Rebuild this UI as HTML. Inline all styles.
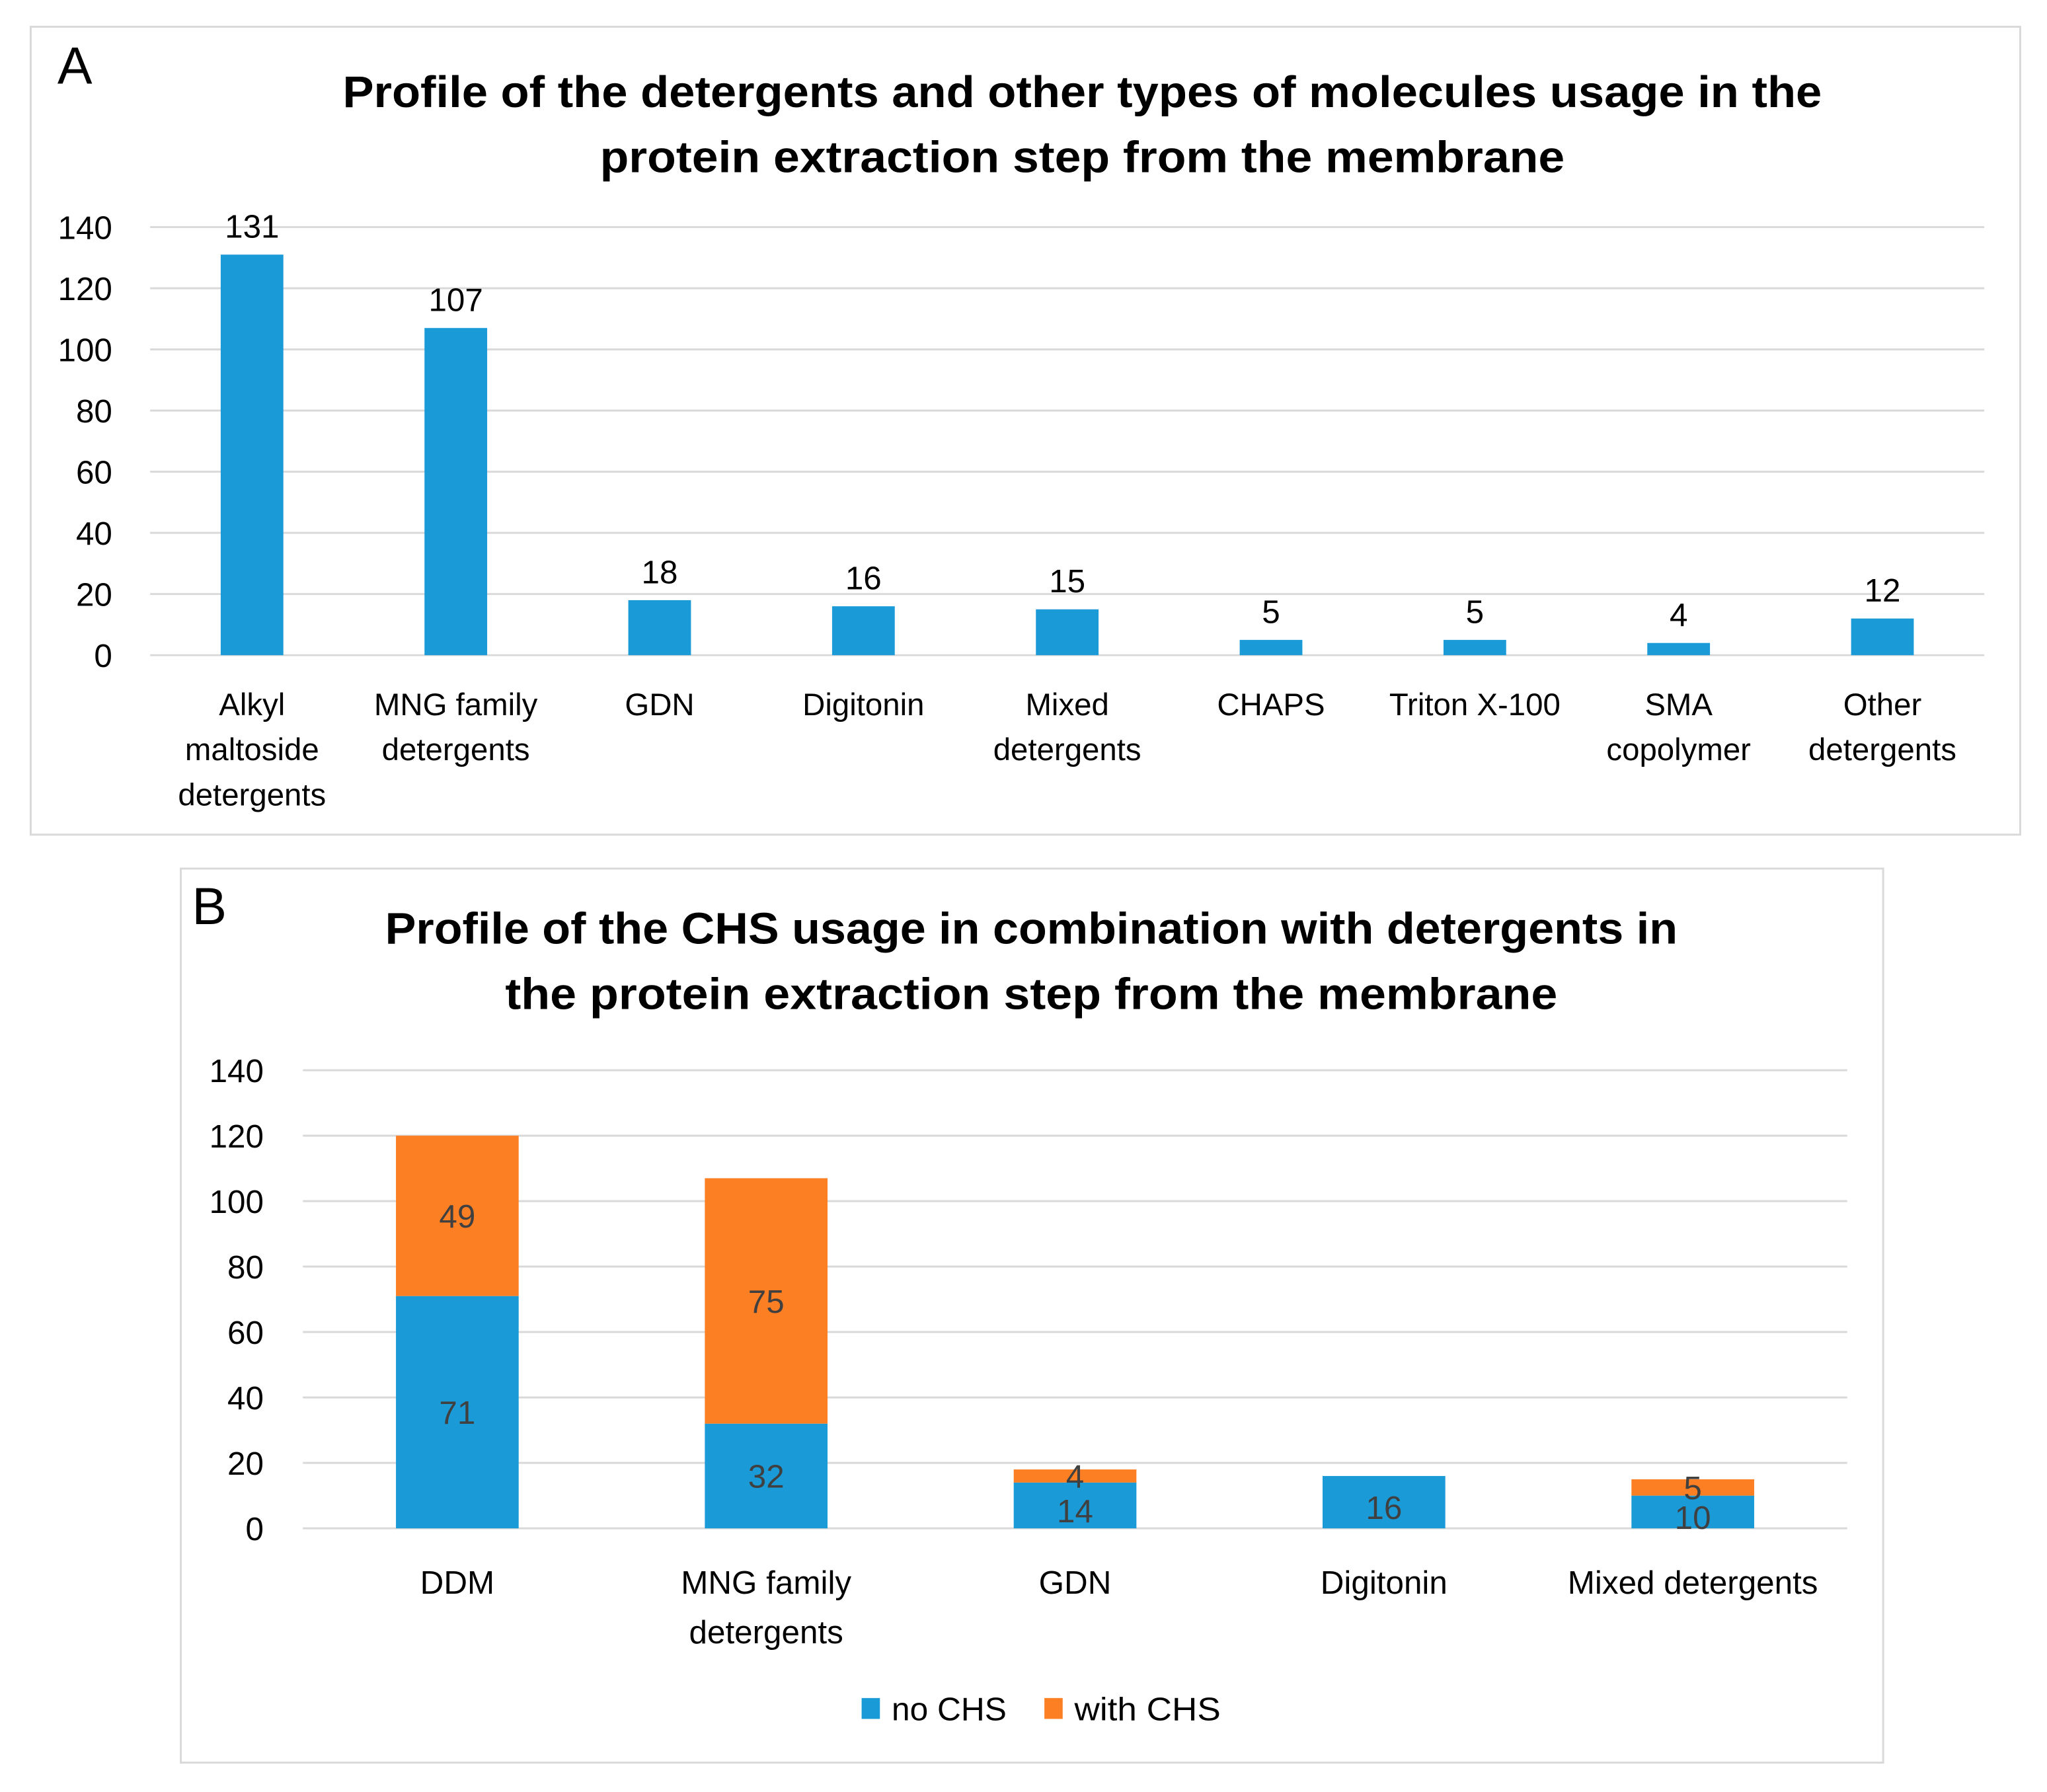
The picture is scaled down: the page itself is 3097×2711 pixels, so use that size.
<!DOCTYPE html>
<html><head><meta charset="utf-8"><style>
html,body{margin:0;padding:0;background:#fff;}
svg{display:block;font-family:"Liberation Sans",sans-serif;}
</style></head><body>
<svg id="fig" width="3097" height="2711" viewBox="0 0 1568 1373" preserveAspectRatio="none" xmlns="http://www.w3.org/2000/svg">
<rect x="0" y="0" width="1568" height="1373" fill="#fff"/>
<rect x="23.5" y="20.5" width="1524" height="619" fill="#fff" stroke="#d9d9d9" stroke-width="1.5"/>
<text x="44" y="64" font-size="40" fill="#000">A</text>
<text x="829" y="82" font-size="34" font-weight="bold" text-anchor="middle" textLength="1133" lengthAdjust="spacingAndGlyphs">Profile of the detergents and other types of molecules usage in the</text>
<text x="829" y="132" font-size="34" font-weight="bold" text-anchor="middle" textLength="739" lengthAdjust="spacingAndGlyphs">protein extraction step from the membrane</text>
<g id="chartA"></g>

<rect x="138.5" y="665.5" width="1304" height="685" fill="#fff" stroke="#d9d9d9" stroke-width="1.5"/>
<text x="147" y="708" font-size="40" fill="#000">B</text>
<text x="790" y="723" font-size="34" font-weight="bold" text-anchor="middle" textLength="990" lengthAdjust="spacingAndGlyphs">Profile of the CHS usage in combination with detergents in</text>
<text x="790" y="773" font-size="34" font-weight="bold" text-anchor="middle" textLength="806" lengthAdjust="spacingAndGlyphs">the protein extraction step from the membrane</text>
<g id="chartB"></g>

<g>
<rect x="660" y="1301" width="14" height="16" fill="#1a9bd7"/>
<text x="683" y="1318" font-size="25" fill="#000" textLength="88" lengthAdjust="spacingAndGlyphs">no CHS</text>
<rect x="800" y="1301" width="14" height="16" fill="#fd7f23"/>
<text x="823" y="1318" font-size="25" fill="#000" textLength="112" lengthAdjust="spacingAndGlyphs">with CHS</text>
</g>
</svg>
<script>
const catsA = [["Alkyl","maltoside","detergents"],["MNG family","detergents"],["GDN"],["Digitonin"],["Mixed","detergents"],["CHAPS"],["Triton X-100"],["SMA","copolymer"],["Other","detergents"]];
const valsA = [131,107,18,16,15,5,5,4,12];
const ticksA = [0,20,40,60,80,100,120,140];

const catsB = [["DDM"],["MNG family","detergents"],["GDN"],["Digitonin"],["Mixed detergents"]];
const noCHS = [71,32,14,16,10];
const withCHS = [49,75,4,0,5];
const ticksB = [0,20,40,60,80,100,120,140];

const NS = "http://www.w3.org/2000/svg";
function mk(parent, tag, attrs, txt){
  const e = document.createElementNS(NS, tag);
  for (const k in attrs) e.setAttribute(k, attrs[k]);
  if (txt !== undefined) e.textContent = txt;
  parent.appendChild(e);
  return e;
}

(function(){
  const g = document.getElementById('chartA');
  const x0 = 115, x1 = 1520, y0 = 502, yTop = 174, maxV = 140;
  const band = (x1 - x0) / catsA.length;
  const y = v => y0 - (v / maxV) * (y0 - yTop);
  const xc = i => x0 + band * (i + 0.5);
  ticksA.forEach(t => {
    const l = mk(g, 'line', {x1:x0, x2:x1, y1:y(t), y2:y(t), stroke:'#d9d9d9', 'stroke-width':1.5});
    
    
    const tx = mk(g, 'text', {x:86, y:y(t)+9, 'font-size':25, 'text-anchor':'end', fill:'#000'}, String(t));
    
    
  });
  valsA.forEach((v, i) => {
    const r = mk(g, 'rect', {x:xc(i)-24, y:y(v), width:48, height:y0-y(v), fill:'#1a9bd7'});
    
    
    const t = mk(g, 'text', {x:xc(i), y:y(v)-13, 'font-size':25, 'text-anchor':'middle', fill:'#000'}, String(v));
    
    
    catsA[i].forEach((line, j) => {
      const c = mk(g, 'text', {x:xc(i), y:548 + j*34.5, 'font-size':24, 'text-anchor':'middle', fill:'#000'}, line);
      
      
    });
  });
})();

(function(){
  const g = document.getElementById('chartB');
  const x0 = 232, x1 = 1415, y0 = 1171, yTop = 820, maxV = 140;
  const band = (x1 - x0) / catsB.length;
  const y = v => y0 - (v / maxV) * (y0 - yTop);
  const xc = i => x0 + band * (i + 0.5);
  ticksB.forEach(t => {
    const l = mk(g, 'line', {x1:x0, x2:x1, y1:y(t), y2:y(t), stroke:'#d9d9d9', 'stroke-width':1.5});
    
    
    const tx = mk(g, 'text', {x:202, y:y(t)+9, 'font-size':25, 'text-anchor':'end', fill:'#000'}, String(t));
    
    
  });
  catsB.forEach((cat, i) => {
    const a = noCHS[i], b = withCHS[i];
    const r1 = mk(g, 'rect', {x:xc(i)-47, y:y(a), width:94, height:y0-y(a), fill:'#1a9bd7'});
    
    
    if (b > 0) {
      const r2 = mk(g, 'rect', {x:xc(i)-47, y:y(a+b), width:94, height:y(a)-y(a+b), fill:'#fd7f23'});
      
      
      const t2 = mk(g, 'text', {x:xc(i), y:(y(a)+y(a+b))/2+9, 'font-size':25, 'text-anchor':'middle', fill:'#404040'}, String(b));
      
      
    }
    const t1 = mk(g, 'text', {x:xc(i), y:(y0+y(a))/2+9 + (a < 20 ? 4 : 0), 'font-size':25, 'text-anchor':'middle', fill:'#404040'}, String(a));
    
    
    cat.forEach((line, j) => {
      const c = mk(g, 'text', {x:xc(i), y:1221 + j*38, 'font-size':25, 'text-anchor':'middle', fill:'#000'}, line);
      
      
    });
  });
})();
</script>
</body></html>
